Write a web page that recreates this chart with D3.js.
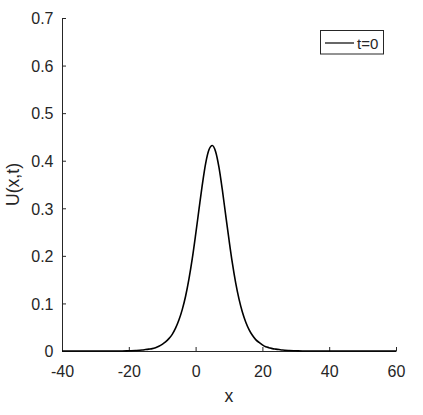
<!DOCTYPE html>
<html>
<head>
<meta charset="utf-8">
<script src="https://cdn.jsdelivr.net/npm/d3@7"></script>
<style>
  html, body { margin: 0; padding: 0; background: #fff; }
  svg { display: block; }
  text { font-family: "Liberation Sans", Arial, sans-serif; fill: #262626; }
</style>
</head>
<body>
<svg id="chart" width="423" height="415"></svg>
<script>
// ---- data ----
const xValues = [-40, -30, -25, -22, -20, -18, -16, -15, -14, -13, -12, -11, -10, -9, -8, -7, -6, -5, -4, -3, -2, -1, 0, 1, 2, 3, 4, 5, 6, 7, 8, 9, 10, 11, 12, 13, 14, 15, 16, 17, 18, 19, 20, 21, 22, 23, 24, 25, 26, 28, 30, 32, 35, 40, 50, 60];
const uValues = [0, 0, 0, 0, 0.0005, 0.001, 0.002, 0.003, 0.004, 0.005, 0.007, 0.010, 0.014, 0.019, 0.026, 0.035, 0.048, 0.065, 0.087, 0.115, 0.151, 0.194, 0.244, 0.297, 0.349, 0.394, 0.423, 0.432, 0.419, 0.386, 0.339, 0.286, 0.234, 0.185, 0.143, 0.109, 0.082, 0.061, 0.045, 0.033, 0.024, 0.018, 0.013, 0.009, 0.007, 0.005, 0.004, 0.003, 0.002, 0.001, 0.0005, 0, 0, 0, 0, 0];
const xTicks = [-40, -20, 0, 20, 40, 60];
const yTicks = [0, 0.1, 0.2, 0.3, 0.4, 0.5, 0.6, 0.7];
const seriesName = "t=0";
const xLabel = "x";
const yLabel = "U(x,t)";

// ---- layout ----
const svg = d3.select("#chart");
const mLeft = 62, mRight = 396, mTop = 18, mBottom = 351;
const ink = "#262626";

const x = d3.scaleLinear().domain([-40, 60]).range([mLeft, mRight]);
const y = d3.scaleLinear().domain([0, 0.7]).range([mBottom, mTop]);

// x axis (ticks inward)
const xAxis = d3.axisBottom(x).tickValues(xTicks).tickSizeInner(-4).tickSizeOuter(0)
  .tickFormat(d => d);
const gx = svg.append("g").attr("transform", `translate(0,${mBottom})`).call(xAxis);
gx.select(".domain").attr("stroke", ink).attr("stroke-width", 1);
gx.selectAll(".tick line").attr("stroke", ink);
gx.selectAll(".tick text").attr("font-size", 16).attr("dy", null).attr("y", 26)
  .attr("fill", ink).style("font-family", "'Liberation Sans', Arial, sans-serif");

// y axis (ticks inward)
const yAxis = d3.axisLeft(y).tickValues(yTicks).tickSizeInner(-4).tickSizeOuter(0)
  .tickFormat(d => d === 0 ? "0" : d3.format(".1f")(d));
const gy = svg.append("g").attr("transform", `translate(${mLeft},0)`).call(yAxis);
gy.select(".domain").attr("stroke", ink).attr("stroke-width", 1);
gy.selectAll(".tick line").attr("stroke", ink);
gy.selectAll(".tick text").attr("font-size", 16).attr("x", -8.5).attr("dy", "0.36em")
  .attr("fill", ink).style("font-family", "'Liberation Sans', Arial, sans-serif");
svg.selectAll("g").attr("font-family", null).attr("font-size", null);

// axis labels
svg.append("text").attr("x", (mLeft + mRight) / 2).attr("y", 401.5)
  .attr("text-anchor", "middle").attr("font-size", 17.6).text(xLabel);
svg.append("text").attr("transform", `translate(18.5,${(mTop + mBottom) / 2}) rotate(-90)`)
  .attr("text-anchor", "middle").attr("font-size", 17.6).text(yLabel);

// curve
const data = xValues.map((v, i) => ({ x: v, u: uValues[i] }));
const line = d3.line().x(d => x(d.x)).y(d => y(d.u)).curve(d3.curveMonotoneX);
svg.append("path").datum(data).attr("d", line)
  .attr("fill", "none").attr("stroke", "#000").attr("stroke-width", 1.6)
  .attr("stroke-linejoin", "round");

// legend
const lg = svg.append("g");
lg.append("rect").attr("x", 320.5).attr("y", 30.5).attr("width", 63).attr("height", 23.5)
  .attr("fill", "#fff").attr("stroke", ink).attr("stroke-width", 1);
lg.append("line").attr("x1", 325).attr("x2", 354).attr("y1", 43).attr("y2", 43)
  .attr("stroke", "#000").attr("stroke-width", 1.2);
lg.append("text").attr("x", 357).attr("y", 48.5).attr("font-size", 15).text(seriesName);
</script>
</body>
</html>
